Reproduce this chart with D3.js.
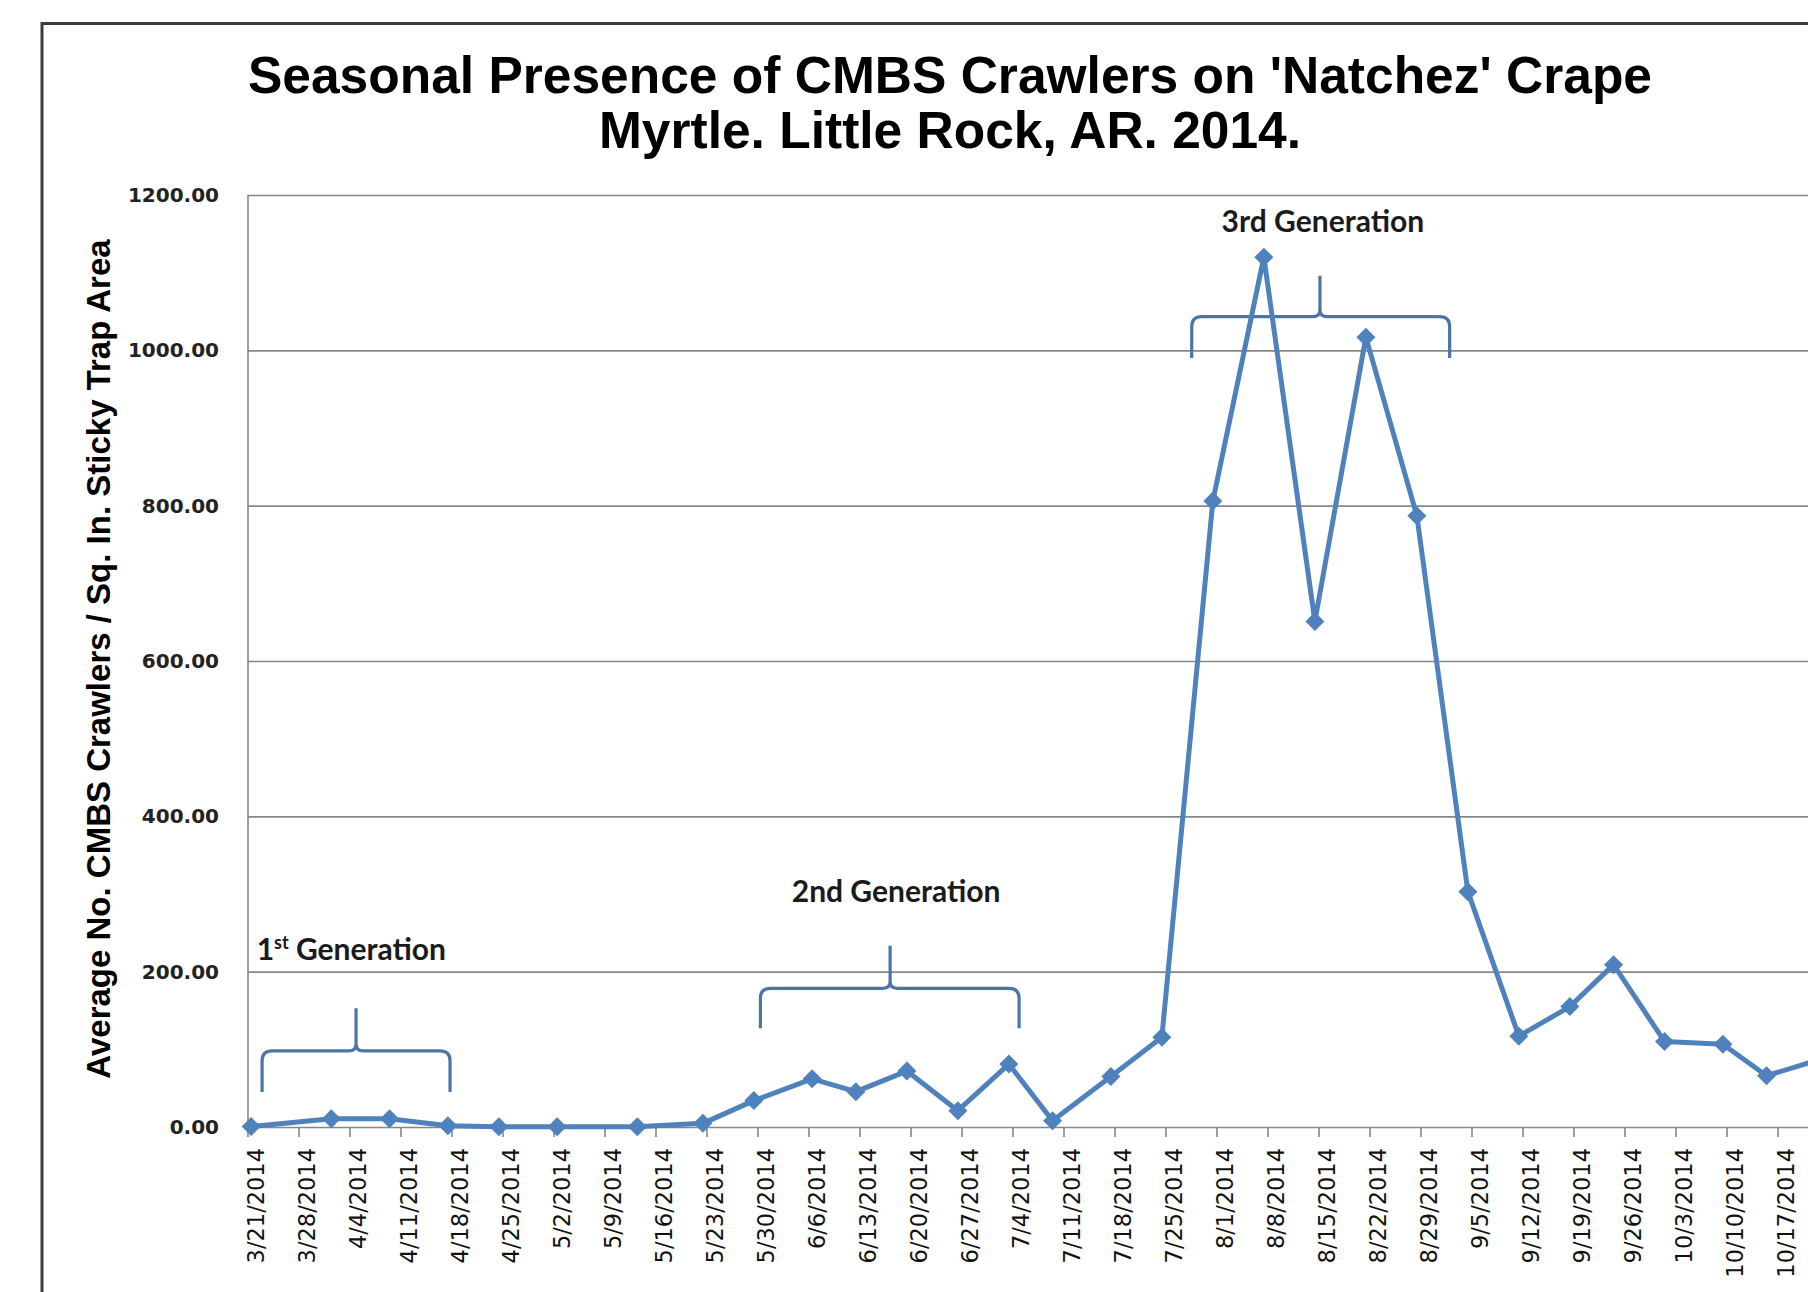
<!DOCTYPE html>
<html>
<head>
<meta charset="utf-8">
<script src="https://cdn.jsdelivr.net/npm/d3@7"></script>
<style>
  html, body { margin: 0; padding: 0; background: #ffffff; overflow: hidden; }
  svg { display: block; }
</style>
</head>
<body>
<svg id="chart" width="1808" height="1292"></svg>
<script>
// ---------------- DATA ----------------
const titleLines = ["Seasonal Presence of CMBS Crawlers on 'Natchez' Crape", "Myrtle. Little Rock, AR. 2014."];
const yAxisTitle = "Average No. CMBS Crawlers / Sq. In. Sticky Trap Area";

// weekly category ticks on the date axis
const tickLabels = ["3/21/2014","3/28/2014","4/4/2014","4/11/2014","4/18/2014","4/25/2014","5/2/2014","5/9/2014",
  "5/16/2014","5/23/2014","5/30/2014","6/6/2014","6/13/2014","6/20/2014","6/27/2014","7/4/2014","7/11/2014",
  "7/18/2014","7/25/2014","8/1/2014","8/8/2014","8/15/2014","8/22/2014","8/29/2014","9/5/2014","9/12/2014",
  "9/19/2014","9/26/2014","10/3/2014","10/10/2014","10/17/2014"];
const axisEndLabel = "10/31/2014";

// sampling dates and average crawlers per sq. in.
const sampleDates = ["3/21/2014","4/1/2014","4/9/2014","4/17/2014","4/24/2014","5/2/2014","5/13/2014","5/22/2014",
  "5/29/2014","6/6/2014","6/12/2014","6/19/2014","6/26/2014","7/3/2014","7/9/2014","7/17/2014","7/24/2014",
  "7/31/2014","8/7/2014","8/14/2014","8/21/2014","8/28/2014","9/4/2014","9/11/2014","9/18/2014","9/24/2014",
  "10/1/2014","10/9/2014","10/15/2014","10/22/2014"];
const crawlers = [0.5, 10.5, 10.5, 1.5, 0.4, 0.4, 0.4, 4.7,
  34, 62, 45.5, 72, 21, 81, 8, 65, 115.5,
  806, 1120, 651, 1017, 787, 303, 117, 155, 209,
  110, 106.5, 66, 86];

const yTicks = [0, 200, 400, 600, 800, 1000, 1200];

// generation annotations: label, brace start/end/tip (days from 3/21), brace values (ends, bar, tip), label anchor
const genLabels = ["1", "2nd Generation", "3rd Generation"];
const braceStartDay = [2.0, 70.4, 129.6];
const braceEndDay   = [27.8, 105.9, 165.0];
const braceTipDay   = [14.9, 88.2, 147.2];
const braceEndValue = [45, 127, 990];
const braceBarValue = [98, 178.6, 1043.3];
const braceTipValue = [153, 233.4, 1096];
const labelDay      = [1.26, 74.7, 133.7];
const labelValue    = [215, 290, 1152.7];

// ---------------- CHART ----------------
const parse = d3.utcParse("%m/%d/%Y");
const fmt = d3.utcFormat("%-m/%-d/%Y");
const t0 = parse(tickLabels[0]);
const dayOf = n => new Date(+t0 + n * 864e5);

const svg = d3.select("#chart");
const W = 1808, H = 1292;
const plotLeft = 247.5, plotTop = 195, plotBottom = 1127;
const weekPx = 51.0;

const x = d3.scaleUtc()
  .domain([t0, parse(axisEndLabel)])
  .range([plotLeft, plotLeft + weekPx * 32]);
const y = d3.scaleLinear().domain([0, 1200]).range([plotBottom, plotTop]);
const halfDay = (x(dayOf(1)) - x(t0)) / 2;   // Excel date axis: point sits in the middle of its day

svg.append("rect").attr("width", W).attr("height", H).attr("fill", "#ffffff");

// outer chart frame
svg.append("rect").attr("x", 42).attr("y", 23.5).attr("width", 2200).attr("height", 2200)
  .attr("fill", "#ffffff").attr("stroke", "#3c3c3c").attr("stroke-width", 3);

const gridColor = "#878787";

// gridlines
svg.append("g")
  .attr("transform", `translate(${plotLeft},0)`)
  .call(d3.axisLeft(y).tickValues(yTicks.slice(1)).tickSize(-(x.range()[1] - plotLeft)).tickFormat(""))
  .call(g => g.select(".domain").remove())
  .call(g => g.selectAll(".tick line").attr("stroke", gridColor).attr("stroke-width", 1.6));

// y axis
svg.append("g")
  .attr("transform", `translate(${plotLeft},0)`)
  .call(d3.axisLeft(y).tickValues(yTicks).tickSize(0).tickPadding(28.5).tickFormat(d3.format(".2f")))
  .call(g => g.select(".domain").attr("stroke", gridColor).attr("stroke-width", 1.6))
  .call(g => g.selectAll("text")
    .attr("font-family", "'DejaVu Sans', Verdana, sans-serif")
    .attr("font-weight", "bold").attr("font-size", 20).attr("fill", "#222"));

// x axis
const tickDates = tickLabels.map(parse);
svg.append("g")
  .attr("transform", `translate(0,${plotBottom})`)
  .call(d3.axisBottom(x).tickValues(tickDates).tickSize(10).tickSizeOuter(0).tickFormat(fmt))
  .call(g => g.select(".domain").attr("stroke", gridColor).attr("stroke-width", 1.6))
  .call(g => g.selectAll(".tick line").attr("stroke", gridColor).attr("stroke-width", 1.6))
  .call(g => g.selectAll("text")
    .attr("x", 0).attr("y", 0).attr("dy", 0)
    .attr("transform", "translate(16,21) rotate(-90)")
    .attr("text-anchor", "end")
    .attr("font-family", "'DejaVu Sans', Verdana, sans-serif")
    .attr("font-size", 22.5).attr("fill", "#111"));

// braces
const braceColor = "#4d74a6";
function bracePath(i) {
  const x1 = x(dayOf(braceStartDay[i])), x2 = x(dayOf(braceEndDay[i])), xt = x(dayOf(braceTipDay[i]));
  const ye = y(braceEndValue[i]), yb = y(braceBarValue[i]), yt = y(braceTipValue[i]);
  const r = 10, c = 7;
  const p = d3.path();
  p.moveTo(x1, ye);
  p.lineTo(x1, yb + r);
  p.quadraticCurveTo(x1, yb, x1 + r, yb);
  p.lineTo(xt - c, yb);
  p.quadraticCurveTo(xt, yb, xt, yb - c);
  p.lineTo(xt, yt);
  p.moveTo(xt, yb - c);
  p.quadraticCurveTo(xt, yb, xt + c, yb);
  p.lineTo(x2 - r, yb);
  p.quadraticCurveTo(x2, yb, x2, yb + r);
  p.lineTo(x2, ye);
  return p.toString();
}
svg.append("g").selectAll("path").data(d3.range(genLabels.length)).join("path")
  .attr("d", bracePath)
  .attr("fill", "none").attr("stroke", braceColor).attr("stroke-width", 3.2)
  .attr("stroke-linecap", "butt");

// generation labels
const labG = svg.append("g")
  .attr("font-family", "Lato, 'Open Sans', sans-serif")
  .attr("font-weight", "bold").attr("font-size", 30).attr("fill", "#1a1a1a");
genLabels.forEach((lab, i) => {
  const t = labG.append("text").attr("x", x(dayOf(labelDay[i]))).attr("y", y(labelValue[i]));
  if (i === 0) {
    t.append("tspan").text(lab);
    t.append("tspan").attr("font-size", 18).attr("dy", -11).text("st");
    t.append("tspan").attr("dy", 11).text(" Generation");
  } else {
    t.text(lab);
  }
});

// data line + markers
const data = sampleDates.map((d, i) => ({ date: parse(d), value: crawlers[i] }));
const lineColor = "#4f81bd";
svg.append("path").datum(data)
  .attr("d", d3.line().x(d => x(d.date) + halfDay).y(d => y(d.value)))
  .attr("fill", "none").attr("stroke", lineColor).attr("stroke-width", 5)
  .attr("stroke-linejoin", "round").attr("stroke-linecap", "round");

const squareDiamond = {
  draw(ctx, size) {
    const r = Math.sqrt(size / 2);
    ctx.moveTo(0, -r); ctx.lineTo(r, 0); ctx.lineTo(0, r); ctx.lineTo(-r, 0); ctx.closePath();
  }
};
svg.append("g").selectAll("path").data(data).join("path")
  .attr("transform", d => `translate(${x(d.date) + halfDay},${y(d.value)})`)
  .attr("d", d3.symbol().type(squareDiamond).size(2 * 9.5 * 9.5))
  .attr("fill", lineColor);

// titles
const tg = svg.append("g")
  .attr("font-family", "'Liberation Sans', Arial, sans-serif")
  .attr("font-weight", "bold").attr("fill", "#000");
tg.selectAll("text").data(titleLines).join("text")
  .attr("x", 950).attr("y", (d, i) => [93, 148][i])
  .attr("text-anchor", "middle").attr("font-size", 51.5).text(d => d);

tg.append("text")
  .attr("transform", "translate(110,659) rotate(-90)")
  .attr("text-anchor", "middle").attr("font-size", 33).text(yAxisTitle);
</script>
</body>
</html>
